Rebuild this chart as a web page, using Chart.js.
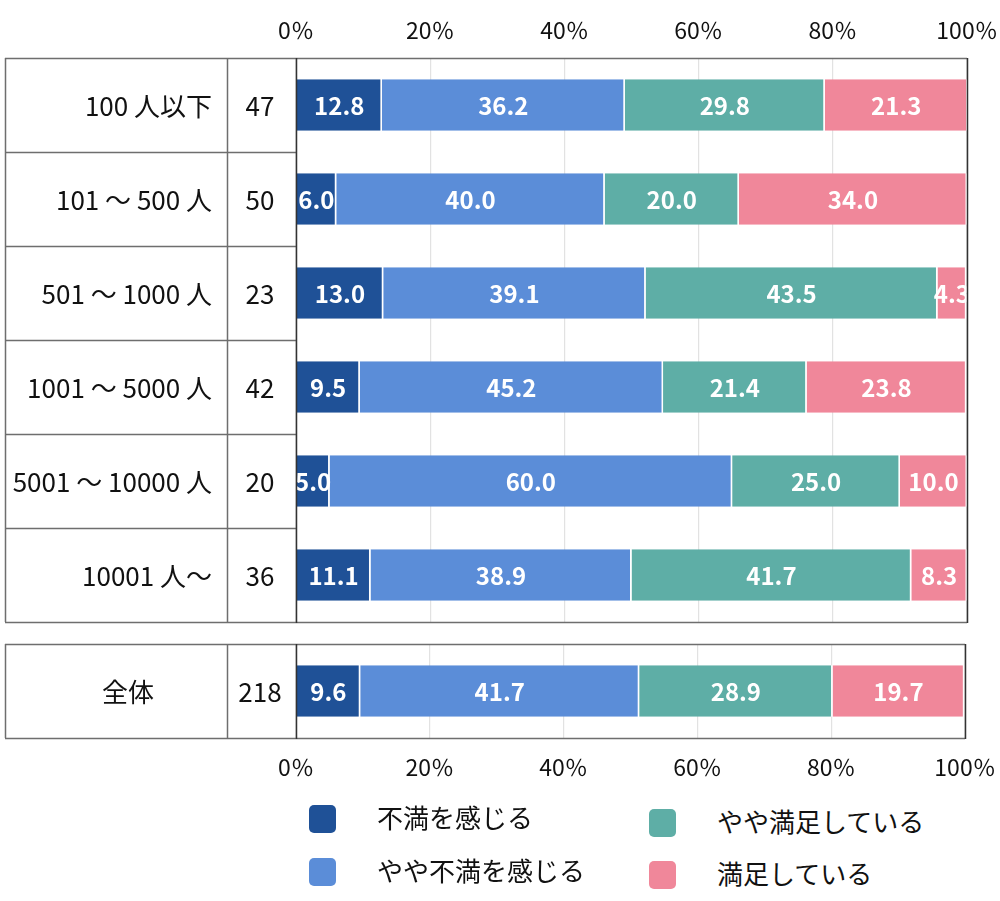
<!DOCTYPE html>
<html>
<head>
<meta charset="utf-8">
<script src="https://cdn.jsdelivr.net/npm/chart.js@4.4.1/dist/chart.umd.min.js"></script>
<style>
  body { margin: 0; background: #fff; width: 1000px; height: 901px; position: relative; overflow: hidden;
         font-family: "Noto Sans CJK JP", "Noto Sans", sans-serif; }
  canvas { position: absolute; left: 0; }
  #c1 { top: 0; }
  #c2 { top: 622px; }
  .lg { position: absolute; font-size: 26px; color: #111; line-height: 28px; white-space: nowrap; }
  .lg i { position: absolute; left: 0; top: 0; width: 27px; height: 28px; border-radius: 5px; }
  .lg span { position: absolute; left: 68px; top: -2px; }
</style>
</head>
<body>
<canvas id="c1" width="1000" height="640"></canvas>
<canvas id="c2" width="1000" height="178"></canvas>
<div id="legend"></div>
<script>
// companies by size
var categories = ["100 人以下", "101 ～ 500 人", "501 ～ 1000 人", "1001 ～ 5000 人", "5001 ～ 10000 人", "10001 人～"];
var counts = [47, 50, 23, 42, 20, 36];
var totalLabel = ["全体"];
var totalCount = [218];

var seriesNames = ["不満を感じる", "やや不満を感じる", "やや満足している", "満足している"];
var colors = ["#1f5197", "#5b8dd8", "#5eaea6", "#f0879a"];

var fuman       = [12.8, 6.0, 13.0, 9.5, 5.0, 11.1];
var yayaFuman   = [36.2, 40.0, 39.1, 45.2, 60.0, 38.9];
var yayaManzoku = [29.8, 20.0, 43.5, 21.4, 25.0, 41.7];
var manzoku     = [21.3, 34.0, 4.3, 23.8, 10.0, 8.3];

var totalValues = [9.6, 41.7, 28.9, 19.7];

var xTicks = [0, 20, 40, 60, 80, 100];

var FONT = '"Noto Sans CJK JP", "Noto Sans", sans-serif';

// white numbers on the bars
var barLabels = {
  id: 'barLabels',
  afterDatasetsDraw(chart) {
    var ctx = chart.ctx, a = chart.chartArea;
    ctx.save();
    ctx.beginPath();
    ctx.rect(a.left, a.top, a.right - a.left, a.bottom - a.top);
    ctx.clip();
    ctx.fillStyle = '#fff';
    ctx.font = 'bold 24px ' + FONT;
    ctx.textAlign = 'center';
    ctx.textBaseline = 'middle';
    chart.data.datasets.forEach(function (ds, di) {
      chart.getDatasetMeta(di).data.forEach(function (el, i) {
        var p = el.getProps(['x', 'y', 'base'], true);
        ctx.fillText(ds.data[i].toFixed(1), (p.x + p.base) / 2, p.y + 1);
      });
    });
    ctx.restore();
  }
};

// left table (label + n) and plot frame
var tableCells = {
  id: 'tableCells',
  afterDraw(chart, args, opts) {
    var ctx = chart.ctx, a = chart.chartArea, y = chart.scales.y;
    var n = opts.labels.length;
    var band = (a.bottom - a.top) / n;
    ctx.save();
    ctx.strokeStyle = '#6e6e6e';
    ctx.lineWidth = 1.5;
    for (var i = 0; i <= n; i++) {
      var yy = Math.round(a.top + i * band) + 0.5;
      var x2 = (i == 0 || i == n) ? a.right : a.left;
      ctx.beginPath(); ctx.moveTo(5, yy); ctx.lineTo(x2, yy); ctx.stroke();
    }
    [5.5, 227.5].forEach(function (xx) {
      ctx.beginPath(); ctx.moveTo(xx, a.top); ctx.lineTo(xx, a.bottom); ctx.stroke();
    });
    ctx.strokeStyle = '#333';
    [a.left, a.right].forEach(function (xx) {
      ctx.beginPath(); ctx.moveTo(xx + 0.5, a.top); ctx.lineTo(xx + 0.5, a.bottom + 1); ctx.stroke();
    });

    ctx.fillStyle = '#111';
    ctx.font = '26px ' + FONT;
    ctx.textBaseline = 'middle';
    for (var j = 0; j < n; j++) {
      var cy = y.getPixelForValue(j) + 1;
      ctx.textAlign = opts.center ? 'center' : 'right';
      ctx.fillText(opts.labels[j], opts.center ? 128 : 212, cy);
      ctx.textAlign = 'center';
      ctx.fillText(String(opts.counts[j]), 260, cy);
    }
    ctx.restore();
  }
};

function xScale(pos, h, pad) {
  return {
    position: pos, min: 0, max: 100, stacked: true,
    afterFit: function (s) { s.height = h; s.paddingLeft = 0; s.paddingRight = 0; },
    afterBuildTicks: function (s) { s.ticks = xTicks.map(function (v) { return { value: v }; }); },
    grid: { color: '#e2e2e2', lineWidth: 1.2, drawTicks: false },
    border: { display: false },
    ticks: { color: '#111', padding: pad, font: { family: FONT, size: 23 },
             callback: function (v) { return v + '％'; } }
  };
}

function yScale() {
  return {
    stacked: true,
    afterFit: function (s) { s.width = 296; },
    grid: { display: false },
    border: { display: false },
    ticks: { display: false }
  };
}

function ds(label, data, color) {
  return { label: label, data: data, backgroundColor: color, borderColor: '#fff',
           borderWidth: { right: 1.5 }, borderSkipped: false,
           categoryPercentage: 0.55, barPercentage: 1 };
}

new Chart(document.getElementById('c1'), {
  type: 'bar',
  data: {
    labels: categories,
    datasets: [
      ds(seriesNames[0], fuman, colors[0]),
      ds(seriesNames[1], yayaFuman, colors[1]),
      ds(seriesNames[2], yayaManzoku, colors[2]),
      ds(seriesNames[3], manzoku, colors[3])
    ]
  },
  options: {
    indexAxis: 'y', responsive: false, animation: false,
    layout: { padding: { left: 0, right: 33, top: 0, bottom: 18 } },
    scales: { x: xScale('top', 58, 14), y: yScale() },
    plugins: { legend: { display: false }, tooltip: { enabled: false },
               tableCells: { labels: categories, counts: counts } }
  },
  plugins: [barLabels, tableCells]
});

new Chart(document.getElementById('c2'), {
  type: 'bar',
  data: {
    labels: totalLabel,
    datasets: seriesNames.map(function (s, i) { return ds(s, [totalValues[i]], colors[i]); })
  },
  options: {
    indexAxis: 'y', responsive: false, animation: false,
    layout: { padding: { left: 0, right: 35, top: 22, bottom: 0 } },
    scales: { x: xScale('bottom', 62, 15), y: yScale() },
    plugins: { legend: { display: false }, tooltip: { enabled: false },
               tableCells: { labels: totalLabel, counts: totalCount, center: true } }
  },
  plugins: [barLabels, tableCells]
});

// legend, two columns
var legendPos = [[309, 805], [309, 858], [649, 809], [649, 861]];
var lg = document.getElementById('legend');
seriesNames.forEach(function (name, i) {
  var d = document.createElement('div');
  d.className = 'lg';
  d.style.left = legendPos[i][0] + 'px';
  d.style.top = legendPos[i][1] + 'px';
  d.innerHTML = '<i style="background:' + colors[i] + '"></i><span>' + name + '</span>';
  lg.appendChild(d);
});
</script>
</body>
</html>
